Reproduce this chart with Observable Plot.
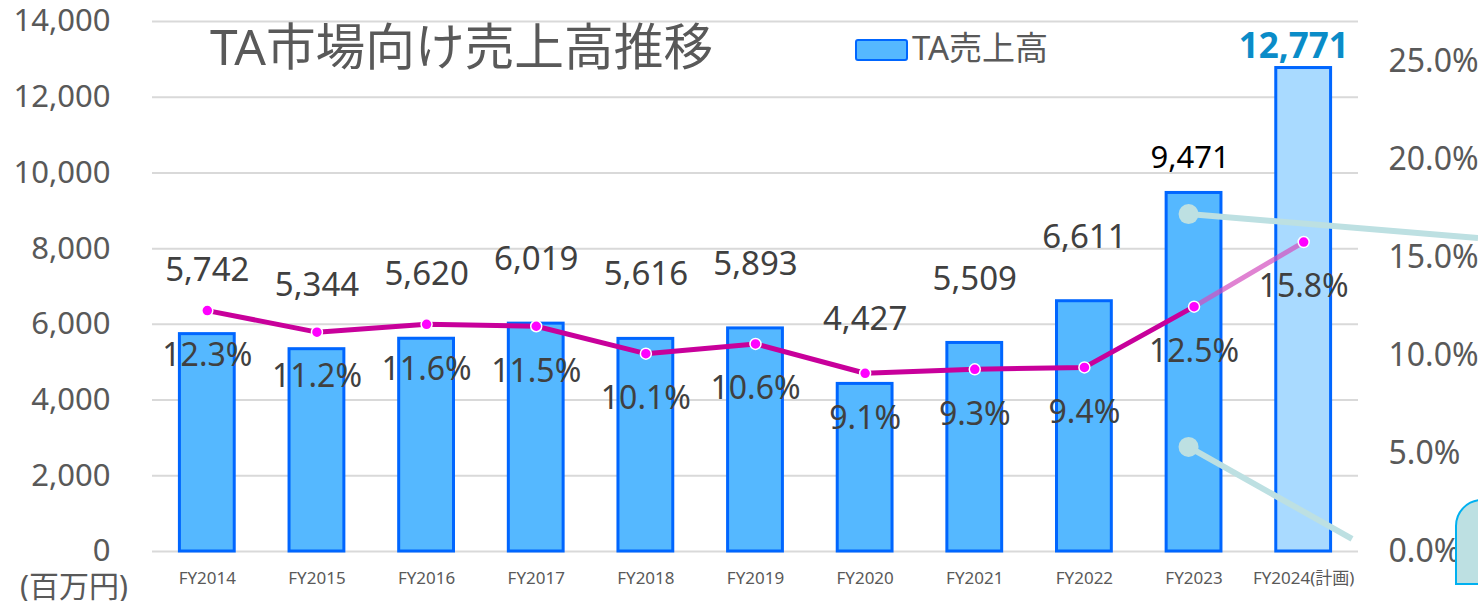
<!DOCTYPE html>
<html>
<head>
<meta charset="utf-8">
<script src="https://cdn.jsdelivr.net/npm/d3@7"></script>
<script src="https://cdn.jsdelivr.net/npm/@observablehq/plot@0.6"></script>
<style>
  html, body { margin: 0; padding: 0; background: #fff; overflow: hidden; }
  #wrap { position: relative; width: 1478px; height: 601px; font-family: "Noto Sans", "Noto Sans CJK JP", sans-serif; }
  .ov { position: absolute; white-space: nowrap; line-height: 1; color: #595959; }
</style>
</head>
<body>
<div id="wrap">
  <div id="chart"></div>
  <div class="ov" style="left:210px; top:22px; font-size:49.7px;">TA市場向け売上高推移</div>
  <div class="ov" style="left:855px; top:39px; width:53px; height:22px; box-sizing:border-box; background:#55B8FF; border:2px solid #0066FF; border-radius:3px;"></div>
  <div class="ov" style="left:912px; top:31px; font-size:33px;">TA売上高</div>
  <div class="ov" style="left:20px; top:571px; font-size:30px;">(百万円)</div>
</div>
<script>
const fys = ["FY2014","FY2015","FY2016","FY2017","FY2018","FY2019","FY2020","FY2021","FY2022","FY2023","FY2024(計画)"];
const sales = [5742, 5344, 5620, 6019, 5616, 5893, 4427, 5509, 6611, 9471, 12771];
const ratio = [12.3, 11.2, 11.6, 11.5, 10.1, 10.6, 9.1, 9.3, 9.4, 12.5, 15.8];
const leftTicks = [0, 2000, 4000, 6000, 8000, 10000, 12000, 14000];
const rightTicks = [0, 5, 10, 15, 20, 25];
const rightMaxPct = 27.06;          // right axis top, in percent
const calloutStart = [8900, 2750];  // callout anchors on FY2023 (left-axis units)
const calloutEnd = [8270, 320];

const K = 14000 / rightMaxPct;
const data = fys.map((fy, i) => ({fy, sales: sales[i], ratio: ratio[i]}));
const last = fys[fys.length - 1];
const prev = fys[fys.length - 2];
const fmt = d3.format(",");

const callouts = function(index, scales, values, dimensions) {
  const g = d3.create("svg:g");
  const bw = scales.x.bandwidth ? scales.x.bandwidth() : 0;
  const x0 = scales.x(prev) + bw / 2 - 5;
  const xe = [dimensions.width, dimensions.width - dimensions.marginRight - 6];
  calloutStart.forEach((v, i) => {
    g.append("line").attr("x1", x0).attr("y1", scales.y(v))
      .attr("x2", xe[i]).attr("y2", scales.y(calloutEnd[i]))
      .attr("stroke", "#BDE0E2").attr("stroke-width", 6);
    g.append("circle").attr("cx", x0).attr("cy", scales.y(v)).attr("r", 10).attr("fill", "#BDE0E2");
  });
  const bx = dimensions.width - 22, by = dimensions.height - 101;
  g.append("path")
    .attr("d", `M${bx},${by + 84} L${bx},${by + 26} A26,26 0 0 1 ${bx + 26},${by} L${bx + 60},${by} L${bx + 60},${by + 84} Z`)
    .attr("fill", "#BDE0E2").attr("stroke", "#00B0F0").attr("stroke-width", 2);
  return g.node();
};

const plot = Plot.plot({
  width: 1478,
  height: 601,
  marginTop: 21,
  marginBottom: 50,
  marginLeft: 152,
  marginRight: 120,
  style: {fontFamily: '"Noto Sans", "Noto Sans CJK JP", sans-serif', color: "#595959", background: "transparent"},
  x: {domain: fys, paddingInner: 0.5, paddingOuter: 0.25, round: false},
  y: {domain: [0, 14000]},
  marks: [
    Plot.ruleY(leftTicks, {stroke: "#D9D9D9", strokeWidth: 2}),
    Plot.axisY({ticks: leftTicks, tickFormat: fmt, tickSize: 0, tickPadding: 42, fontSize: 31, label: null}),
    Plot.axisY({anchor: "right", ticks: rightTicks.map(p => p * K), tickFormat: v => (v / K).toFixed(1) + "%", tickSize: 0, tickPadding: 30, fontSize: 32, label: null}),
    Plot.axisX({tickSize: 0, tickPadding: 20, fontSize: 17, label: null}),
    Plot.barY(data.filter(d => d.fy !== last), {x: "fy", y: "sales", fill: "#55B8FF", stroke: "#0066FF", strokeWidth: 3}),
    Plot.barY(data.filter(d => d.fy === last), {x: "fy", y: "sales", fill: "#A9DAFF", stroke: "#0066FF", strokeWidth: 3}),
    Plot.line(data.filter(d => d.fy !== last), {x: "fy", y: d => d.ratio * K, stroke: "#C8009B", strokeWidth: 5}),
    Plot.line(data.filter(d => d.fy === last || d.fy === prev), {x: "fy", y: d => d.ratio * K, stroke: "#D34FBF", strokeOpacity: 0.7, strokeWidth: 5}),
    Plot.dot(data, {x: "fy", y: d => d.ratio * K, r: 5.5, fill: "#FF00FF", stroke: "white", strokeWidth: 1.5}),
    Plot.text(data.filter(d => d.fy !== last && d.fy !== prev), {x: "fy", y: "sales", text: d => fmt(d.sales), dy: -64, fontSize: 33, fill: "#404040"}),
    Plot.text(data.filter(d => d.fy === prev), {x: "fy", y: "sales", text: d => fmt(d.sales), dy: -35, dx: -4, fontSize: 31, fill: "#000000"}),
    Plot.text(data.filter(d => d.fy === last), {x: "fy", y: "sales", text: d => fmt(d.sales), dy: -21, dx: -10, fontSize: 35, fontWeight: "bold", fill: "#0A8CC8"}),
    Plot.text(data, {x: "fy", y: d => d.ratio * K, text: d => d.ratio.toFixed(1) + "%", dy: 45, fontSize: 32, fill: "#404040"}),
    callouts
  ]
});
document.getElementById("chart").appendChild(plot);
</script>
</body>
</html>
